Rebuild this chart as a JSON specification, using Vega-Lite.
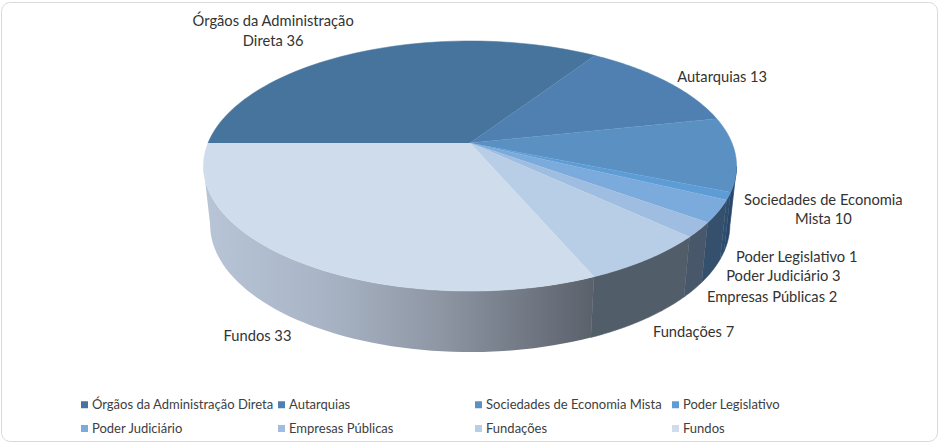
{"$schema":"https://vega.github.io/schema/vega-lite/v6.json","width":936,"height":439,"autosize":"none","padding":{"left":1,"top":2,"right":1,"bottom":2},"background":"#ffffff","view":{"stroke":"#d9d9d9","strokeWidth":1,"cornerRadius":9,"fill":"#ffffff"},"config":{"font":"Lato"},
"data":{"values":[
{"ordem":1,"categoria":"Órgãos da Administração Direta","valor":36,"rotulo":"Órgãos da Administração\nDireta 36"},
{"ordem":2,"categoria":"Autarquias","valor":13,"rotulo":"Autarquias 13"},
{"ordem":3,"categoria":"Sociedades de Economia Mista","valor":10,"rotulo":"Sociedades de Economia\nMista 10"},
{"ordem":4,"categoria":"Poder Legislativo","valor":1,"rotulo":"Poder Legislativo 1"},
{"ordem":5,"categoria":"Poder Judiciário","valor":3,"rotulo":"Poder Judiciário 3"},
{"ordem":6,"categoria":"Empresas Públicas","valor":2,"rotulo":"Empresas Públicas 2"},
{"ordem":7,"categoria":"Fundações","valor":7,"rotulo":"Fundações 7"},
{"ordem":8,"categoria":"Fundos","valor":33,"rotulo":"Fundos 33"}]},
"transform":[
{"window":[{"op":"sum","field":"valor","as":"acum"}],"sort":[{"field":"ordem","order":"ascending"}],"frame":[null,0]},
{"joinaggregate":[{"op":"sum","field":"valor","as":"total"}]},
{"calculate":"(datum.acum-datum.valor)/datum.total*2*PI-PI/2","as":"ini"},
{"calculate":"datum.acum/datum.total*2*PI-PI/2","as":"fim"},
{"calculate":"(datum.ini+datum.fim)/2","as":"meio"},
{"calculate":"1+0.184*cos(datum.meio)","as":"den"},
{"calculate":"262*sin(datum.meio)/datum.den","as":"X"},
{"calculate":"-120.8*cos(datum.meio)/datum.den","as":"Y"}],
"encoding":{
"x":{"field":"X","type":"quantitative","axis":null,"scale":{"domain":[-469,467],"nice":false,"zero":false}},
"y":{"field":"Y","type":"quantitative","axis":null,"scale":{"domain":[-141,298],"reverse":true,"nice":false,"zero":false}}},
"layer":[
{"transform":[{"filter":"datum.categoria!=='Fundos'"},
{"calculate":"sequence(0,122)","as":"i"},{"flatten":["i"]},
{"calculate":"clamp(datum.ini+(datum.fim-datum.ini)*(datum.i<=60?datum.i:121-datum.i)/60,1.756,4.527)","as":"ang"},
{"calculate":"1+0.184*cos(datum.ang)","as":"den"},
{"calculate":"262*sin(datum.ang)/datum.den*(datum.i<=60?1:0.975)","as":"X"},
{"calculate":"-120.8*cos(datum.ang)/datum.den+(datum.i<=60?0:58-3*cos(datum.ang))","as":"Y"}],
"mark":{"type":"line","strokeWidth":0.6},
"encoding":{"detail":{"field":"categoria"},"order":{"field":"i","type":"quantitative"},
"stroke":{"condition":[
{"test":"datum.categoria==='Sociedades de Economia Mista'","value":"#27466a"},
{"test":"datum.categoria==='Poder Legislativo'","value":"#2f4e6e"},
{"test":"datum.categoria==='Poder Judiciário'","value":"#34506c"},
{"test":"datum.categoria==='Empresas Públicas'","value":"#48586a"},
{"test":"datum.categoria==='Fundações'","value":"#525d6a"}],"value":"#3a5a7c"},
"fill":{"condition":[
{"test":"datum.categoria==='Sociedades de Economia Mista'","value":"#27466a"},
{"test":"datum.categoria==='Poder Legislativo'","value":"#2f4e6e"},
{"test":"datum.categoria==='Poder Judiciário'","value":"#34506c"},
{"test":"datum.categoria==='Empresas Públicas'","value":"#48586a"},
{"test":"datum.categoria==='Fundações'","value":"#525d6a"}],"value":"#3a5a7c"}}},
{"transform":[{"filter":"datum.categoria==='Fundos'"},
{"calculate":"sequence(0,122)","as":"i"},{"flatten":["i"]},
{"calculate":"clamp(datum.ini+(datum.fim-datum.ini)*(datum.i<=60?datum.i:121-datum.i)/60,1.756,4.527)","as":"ang"},
{"calculate":"1+0.184*cos(datum.ang)","as":"den"},
{"calculate":"262*sin(datum.ang)/datum.den*(datum.i<=60?1:0.975)","as":"X"},
{"calculate":"-120.8*cos(datum.ang)/datum.den+(datum.i<=60?0:58-3*cos(datum.ang))","as":"Y"}],
"mark":{"type":"line","strokeWidth":0,"fill":{"gradient":"linear","x1":0,"y1":0,"x2":1,"y2":0,"stops":[{"offset":0,"color":"#b7c5d6"},{"offset":0.3,"color":"#a9b5c6"},{"offset":0.6,"color":"#8f97a5"},{"offset":1,"color":"#5a616b"}]}},
"encoding":{"order":{"field":"i","type":"quantitative"}}},
{"transform":[
{"calculate":"sequence(0,62)","as":"i"},{"flatten":["i"]},
{"calculate":"datum.ini+(datum.fim-datum.ini)*(datum.i-1)/60","as":"ang"},
{"calculate":"1+0.184*cos(datum.ang)","as":"den"},
{"calculate":"datum.i==0?0:262*sin(datum.ang)/datum.den","as":"X"},
{"calculate":"datum.i==0?0:-120.8*cos(datum.ang)/datum.den","as":"Y"}],
"mark":{"type":"line","strokeWidth":0.5},
"encoding":{"order":{"field":"i","type":"quantitative"},
"stroke":{"field":"categoria","type":"nominal","sort":null,"scale":{"domain":["Órgãos da Administração Direta","Autarquias","Sociedades de Economia Mista","Poder Legislativo","Poder Judiciário","Empresas Públicas","Fundações","Fundos"],"range":["#46749d","#4f80b1","#5a90c2","#5e9cd6","#7babdc","#9fbde0","#b8cee6","#cfdcec"]},"legend":null},
"fill":{"field":"categoria","type":"nominal","sort":null,"scale":{"domain":["Órgãos da Administração Direta","Autarquias","Sociedades de Economia Mista","Poder Legislativo","Poder Judiciário","Empresas Públicas","Fundações","Fundos"],"range":["#46749d","#4f80b1","#5a90c2","#5e9cd6","#7babdc","#9fbde0","#b8cee6","#cfdcec"]},
"legend":{"title":null,"orient":"none","direction":"horizontal","legendX":77,"legendY":396,"columns":4,"gridAlign":"all","symbolType":"square","symbolSize":49,"symbolStrokeWidth":0,"labelFont":"Lato","labelFontSize":13,"labelColor":"#404040","labelOffset":1,"labelLimit":300,"columnPadding":1,"rowPadding":10,"padding":0}}}},
{"transform":[{"filter":"datum.ordem==1"}],"mark":{"type":"text","font":"Lato","fontSize":14.7,"color":"#333333","lineBreak":"\n","lineHeight":20,"dx":-90,"dy":-29},"encoding":{"text":{"field":"rotulo"}}},
{"transform":[{"filter":"datum.ordem==2"}],"mark":{"type":"text","font":"Lato","fontSize":14.7,"color":"#333333","dx":56,"dy":-3},"encoding":{"text":{"field":"rotulo"}}},
{"transform":[{"filter":"datum.ordem==3"}],"mark":{"type":"text","font":"Lato","fontSize":14.7,"color":"#333333","lineBreak":"\n","lineHeight":19.5,"dx":88,"dy":46.5},"encoding":{"text":{"field":"rotulo"}}},
{"transform":[{"filter":"datum.ordem==4"}],"mark":{"type":"text","font":"Lato","fontSize":14.7,"color":"#333333","dx":68,"dy":62},"encoding":{"text":{"field":"rotulo"}}},
{"transform":[{"filter":"datum.ordem==5"}],"mark":{"type":"text","font":"Lato","fontSize":14.7,"color":"#333333","dx":65,"dy":66},"encoding":{"text":{"field":"rotulo"}}},
{"transform":[{"filter":"datum.ordem==6"}],"mark":{"type":"text","font":"Lato","fontSize":14.7,"color":"#333333","dx":73,"dy":68},"encoding":{"text":{"field":"rotulo"}}},
{"transform":[{"filter":"datum.ordem==7"}],"mark":{"type":"text","font":"Lato","fontSize":14.7,"color":"#333333","dx":46,"dy":74},"encoding":{"text":{"field":"rotulo"}}},
{"transform":[{"filter":"datum.ordem==8"}],"mark":{"type":"text","font":"Lato","fontSize":14.7,"color":"#333333","dx":-42,"dy":75},"encoding":{"text":{"field":"rotulo"}}}
]}
